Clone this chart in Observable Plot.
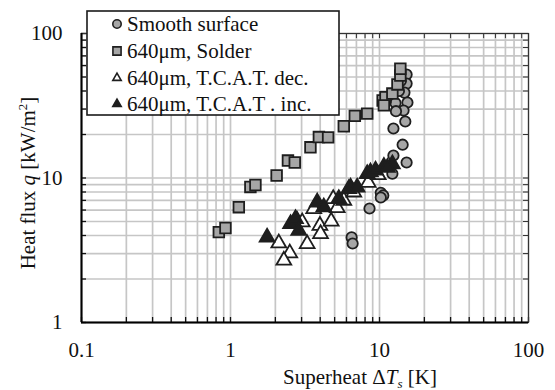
<!DOCTYPE html>
<html><head><meta charset="utf-8">
<script src="https://cdn.jsdelivr.net/npm/d3@7"></script>
<script src="https://cdn.jsdelivr.net/npm/@observablehq/plot@0.6"></script>
<style>
body{margin:0;background:#fff;}
#wrap{width:555px;height:390px;}
</style></head><body><div id="wrap"></div>
<script>
// ---- data ----
const seriesNames = ["Smooth surface", "640\u03bcm, Solder", "640\u03bcm, T.C.A.T. dec.", "640\u03bcm, T.C.A.T . inc."];
const smoothX = [15.2,15.2,14.7,15.4,14.5,14.9,12.4,14.3,12.4,15.2,12.2,10.2,10.6,10.2,8.57,6.5,6.6,12.8,12.9,13.5,13.9];
const smoothY = [52,45,39,33.3,29.3,24.6,22,17,14.3,12.8,10.7,7.9,7.57,7.33,6.15,3.88,3.52,33,29,40,47];
const solderX = [0.835,0.925,1.137,1.36,1.47,2.04,2.43,2.70,3.44,3.92,4.52,5.76,6.83,8.27,10.5,10.97,10.7,12.2,13.2,13.8,13.8];
const solderY = [4.22,4.51,6.28,8.67,8.95,10.4,13.2,12.8,16.3,19.2,19.1,22.8,26.9,27.9,34.4,36.2,31.8,38.4,44.4,51.2,57];
const decX = [2.11,2.50,2.28,3.27,2.80,3.03,3.98,4.02,4.74,3.62,4.89,5.20,5.76,6.72,8.4,9.8];
const decY = [3.54,3.02,2.69,3.50,5.08,4.95,4.69,4.11,5.02,6.12,7.18,6.22,6.99,7.97,9.3,10.5];
const incX = [1.76,2.53,2.73,2.87,3.82,4.23,5.33,6.22,6.39,7.08,8.27,8.7,9.4,10.7,12.2,11.3];
const incY = [3.89,4.82,5.22,4.33,6.80,6.28,7.18,8.42,8.63,8.63,10.7,10.97,11.3,12.0,12.5,11.8];
const xTickLabels = [0.1, 1, 10, 100];
const yTickLabels = [1, 10, 100];

// ---- layout ----
const W = 555, H = 390, mL = 81, mR = 27, mT = 33, mB = 68;
const pw = W - mL - mR, ph = H - mT - mB;
const FONT = "'Liberation Serif','Times New Roman',serif";
const minorOf = (decades) => { const a = []; decades.forEach(d => { for (let k = 1; k <= 9; k++) a.push(+(k * d).toPrecision(3)); }); return a; };
const xGrid = minorOf([0.1, 1, 10]).concat([100]);
const yGrid = minorOf([1, 10]).concat([100]);

const pts = (xs, ys) => xs.map((x, i) => ({x, y: ys[i]}));
const GRAY = "#a6a6a6", INK = "#1e1e1e";

const plot = Plot.plot({
  width: W, height: H,
  marginLeft: mL, marginRight: mR, marginTop: mT, marginBottom: mB,
  style: {fontFamily: FONT, fontSize: "21px", background: "#fff", color: "#000"},
  x: {type: "log", domain: [0.1, 100], label: null},
  y: {type: "log", domain: [1, 100], label: null},
  marks: [
    Plot.ruleX(xGrid, {stroke: "#c6c6c6", strokeWidth: 1.7}),
    Plot.ruleY(yGrid, {stroke: "#c6c6c6", strokeWidth: 1.7}),
    Plot.tickX(xGrid, {insetTop: ph - 5, stroke: "#111", strokeWidth: 1.3}),
    Plot.tickX(xGrid, {insetBottom: ph - 5, stroke: "#333", strokeWidth: 1}),
    Plot.tickY(yGrid, {insetRight: pw - 5, stroke: "#111", strokeWidth: 1.3}),
    Plot.tickY(yGrid, {insetLeft: pw - 5, stroke: "#333", strokeWidth: 1}),
    Plot.frame({stroke: "#333", strokeWidth: 1.2}),
    Plot.ruleX([0.1], {stroke: "#000", strokeWidth: 2}),
    Plot.ruleY([1], {stroke: "#000", strokeWidth: 2}),
    Plot.axisX(xTickLabels, {tickSize: 0, tickPadding: 20, tickFormat: d => String(d), fontSize: 21, fill: "#111"}),
    Plot.axisY(yTickLabels, {tickSize: 0, tickPadding: 19, tickFormat: d => String(d), fontSize: 21, fill: "#111"}),
    Plot.dot(pts(smoothX, smoothY), {x: "x", y: "y", symbol: "circle", r: 5.2, fill: GRAY, stroke: INK, strokeWidth: 1.8}),
    Plot.dot(pts(solderX, solderY), {x: "x", y: "y", symbol: "square", r: 6, fill: GRAY, stroke: INK, strokeWidth: 1.8}),
    Plot.dot(pts(decX, decY), {x: "x", y: "y", symbol: "triangle", r: 5.5, fill: "#fff", stroke: INK, strokeWidth: 1.8}),
    Plot.dot(pts(incX, incY), {x: "x", y: "y", symbol: "triangle", r: 5.5, fill: INK, stroke: INK, strokeWidth: 1.8})
  ]
});
document.getElementById("wrap").appendChild(plot);

// ---- axis titles and legend (text with sub/superscripts) ----
const svg = d3.select(plot);
const xl = svg.append("text").attr("x", 360).attr("y", 384).attr("text-anchor", "middle")
  .attr("font-family", FONT).attr("font-size", 21).attr("fill", "#111");
xl.append("tspan").text("Superheat \u0394");
xl.append("tspan").attr("font-style", "italic").text("T");
xl.append("tspan").attr("font-style", "italic").attr("font-size", 13).attr("dy", 4).text("s");
xl.append("tspan").attr("dy", -4).text(" [K]");

const yl = svg.append("text").attr("transform", "translate(35,183) rotate(-90)").attr("text-anchor", "middle")
  .attr("font-family", FONT).attr("font-size", 21).attr("fill", "#111");
yl.append("tspan").text("Heat flux ");
yl.append("tspan").attr("font-style", "italic").text("q");
yl.append("tspan").text(" [kW/m");
yl.append("tspan").attr("font-size", 13).attr("dy", -8).text("2");
yl.append("tspan").attr("dy", 8).text("]");

const lg = svg.append("g");
lg.append("rect").attr("x", 87).attr("y", 11).attr("width", 252).attr("height", 104)
  .attr("fill", "#fff").attr("stroke", "#1a1a1a").attr("stroke-width", 1.6);
const rowsY = [24, 51, 78, 104];
const syms = [d3.symbolCircle, d3.symbolSquare, d3.symbolTriangle2, d3.symbolTriangle2];
const sizes = [Math.PI * 4.2 * 4.2, Math.PI * 4.6 * 4.6, Math.PI * 4 * 4, Math.PI * 4 * 4];
const fills = [GRAY, GRAY, "#fff", INK];
seriesNames.forEach((name, i) => {
  lg.append("path").attr("d", d3.symbol(syms[i], sizes[i])())
    .attr("transform", `translate(117,${rowsY[i]})`)
    .attr("fill", fills[i]).attr("stroke", INK).attr("stroke-width", 1.6);
  lg.append("text").attr("x", 127).attr("y", rowsY[i]).attr("dy", "0.35em").attr("text-anchor", "start")
    .attr("font-family", FONT).attr("font-size", 21).attr("fill", "#111").text(name);
});
</script>
</body></html>
